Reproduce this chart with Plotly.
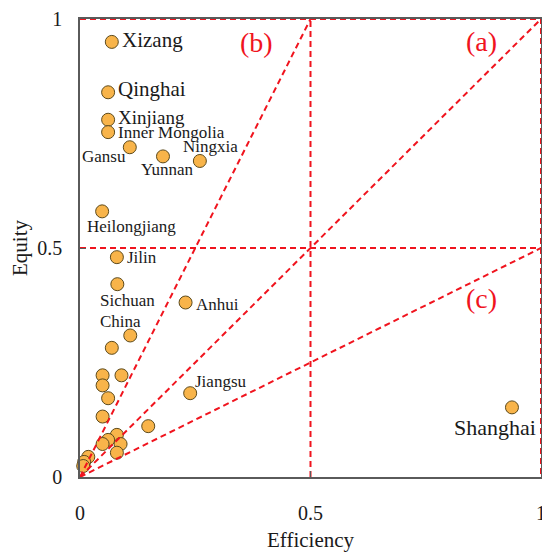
import plotly.graph_objects as go

# labelled regions
named = ["Xizang", "Qinghai", "Xinjiang", "Inner Mongolia", "Gansu", "Yunnan", "Ningxia",
         "Heilongjiang", "Jilin", "Sichuan", "Anhui", "China", "Jiangsu", "Shanghai"]
named_eff = [0.069, 0.061, 0.061, 0.061, 0.108, 0.180, 0.260,
             0.048, 0.080, 0.081, 0.229, 0.109, 0.239, 0.937]
named_equ = [0.950, 0.840, 0.780, 0.753, 0.720, 0.700, 0.690,
             0.580, 0.480, 0.421, 0.381, 0.309, 0.183, 0.152]

# unlabelled regions
other_eff = [0.069, 0.049, 0.090, 0.049, 0.061, 0.049, 0.148, 0.080,
             0.061, 0.049, 0.088, 0.080, 0.018, 0.009, 0.007]
other_equ = [0.282, 0.222, 0.222, 0.200, 0.172, 0.132, 0.111, 0.092,
             0.081, 0.072, 0.072, 0.053, 0.044, 0.033, 0.024]

# reference lines: rays from origin and quadrant splits
ray_slopes = [2, 1, 0.5]
split = 0.5
zones = ["(a)", "(b)", "(c)"]
zone_x = [0.87, 0.382, 0.87]
zone_y = [0.95, 0.948, 0.389]

SERIF = "Times New Roman, Liberation Serif, serif"
RED = "#f0141e"
AXIS = "#5a5a5a"
INK = "#1a1a1a"

# label placement: (xanchor, xshift, yshift, font size)
place = {
    "Xizang": ("left", 8, 2, 21),
    "Qinghai": ("left", 8, 3, 21),
    "Xinjiang": ("left", 8, 2, 19),
    "Inner Mongolia": ("left", 8, 0, 17),
    "Gansu": ("right", -2, -9, 17),
    "Yunnan": ("center", 4, -13, 17),
    "Ningxia": ("center", 11, 14, 17),
    "Heilongjiang": ("left", -17, -15, 17),
    "Jilin": ("left", 8, 0, 17),
    "Sichuan": ("center", 10, -16, 17),
    "Anhui": ("left", 8, -2, 17),
    "China": ("center", -10, 14, 17),
    "Jiangsu": ("left", 3, 12, 17),
    "Shanghai": ("center", -17, -20, 22),
}

marker = dict(size=13, color="#f8b44a", line=dict(color="#5c4a1c", width=1))

fig = go.Figure()
fig.add_trace(go.Scatter(x=other_eff + named_eff, y=other_equ + named_equ, mode="markers",
                         marker=marker, cliponaxis=False, showlegend=False))

dash = dict(color=RED, width=2, dash="6px,4px")
for s in ray_slopes:
    x_end = min(1.0, 1.0 / s)
    fig.add_trace(go.Scatter(x=[0, x_end], y=[0, s * x_end], mode="lines", line=dash,
                             showlegend=False, hoverinfo="skip", cliponaxis=False))
fig.add_trace(go.Scatter(x=[split, split], y=[0, 1], mode="lines", line=dash,
                         showlegend=False, hoverinfo="skip"))
fig.add_trace(go.Scatter(x=[0, 1], y=[split, split], mode="lines", line=dash,
                         showlegend=False, hoverinfo="skip"))
fig.add_trace(go.Scatter(x=[0, 1, 1], y=[1, 1, 0], mode="lines", line=dash,
                         showlegend=False, hoverinfo="skip", cliponaxis=False))

for name, x, y in zip(named, named_eff, named_equ):
    xa, dx, dy, sz = place[name]
    fig.add_annotation(x=x, y=y, text=name, showarrow=False, xanchor=xa, yanchor="middle",
                       xshift=dx, yshift=dy, font=dict(family=SERIF, size=sz, color=INK))

for t, x, y in zip(zones, zone_x, zone_y):
    fig.add_annotation(x=x, y=y, text=t, showarrow=False, xanchor="center", yanchor="middle",
                       font=dict(family=SERIF, size=28, color=RED))

axis_common = dict(
    range=[0, 1], tickvals=[0, 0.5, 1], ticktext=["0", "0.5", "1"],
    showgrid=False, zeroline=False, showline=True, linecolor=AXIS, linewidth=1.5,
    mirror=True, ticks="inside", ticklen=6, tickcolor=AXIS, automargin=False,
    tickfont=dict(family=SERIF, size=20, color=INK),
)

# the page body adds an 8px margin, so the figure is a bit smaller than the window
fig.update_layout(
    width=542, height=551,
    margin=dict(l=72, r=9, t=11, b=82),
    plot_bgcolor="white", paper_bgcolor="white",
    xaxis=dict(axis_common, title=dict(text="Efficiency", standoff=10,
                                       font=dict(family=SERIF, size=21, color=INK)),
               ticklabelstandoff=17),
    yaxis=dict(axis_common, title=dict(text="Equity", standoff=6,
                                       font=dict(family=SERIF, size=21, color=INK)),
               ticklabelstandoff=12),
)

fig.write_html("out.html")
